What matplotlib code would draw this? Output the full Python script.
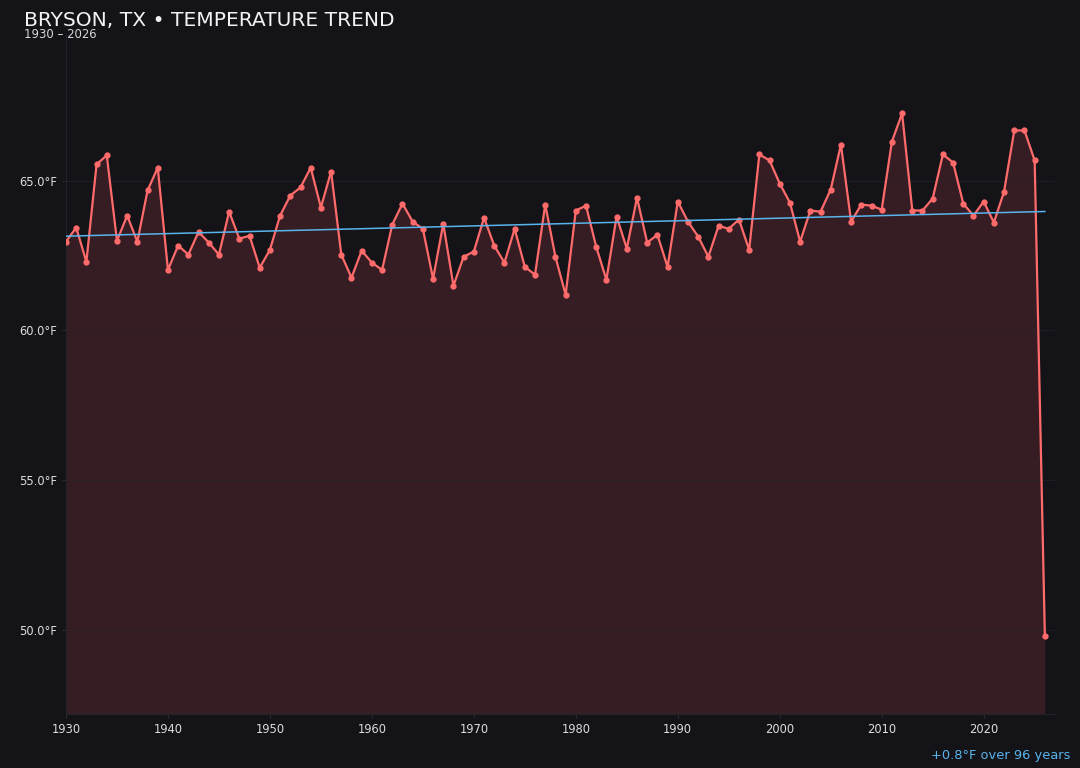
"""
Temperature trend chart for Bryson, TX
"""
import numpy
import matplotlib
matplotlib.use('Agg')
import matplotlib.pyplot as plt
from matplotlib.ticker import FuncFormatter, MultipleLocator

years = numpy.arange(1930, 2027)
temps = [
  62.96, 63.43, 62.29, 65.54, 65.84, 62.99, 63.83, 62.96, 64.67, 65.43,
  62.02, 62.83, 62.53, 63.29, 62.93, 62.53, 63.96, 63.06, 63.16, 62.09,
  62.69, 63.83, 64.50, 64.77, 65.43, 64.10, 65.30, 62.53, 61.76, 62.66,
  62.26, 62.02, 63.53, 64.23, 63.63, 63.39, 61.72, 63.56, 61.49, 62.46,
  62.63, 63.76, 62.83, 62.26, 63.39, 62.12, 61.86, 64.20, 62.46, 61.19,
  64.00, 64.16, 62.79, 61.69, 63.80, 62.73, 64.43, 62.93, 63.19, 62.12,
  64.30, 63.63, 63.13, 62.46, 63.49, 63.39, 63.70, 62.69, 65.87, 65.67,
  64.90, 64.26, 62.96, 64.00, 63.96, 64.70, 66.20, 63.63, 64.20, 64.16,
  64.03, 66.30, 67.24, 64.00, 64.00, 64.40, 65.87, 65.60, 64.23, 63.83,
  64.30, 63.60, 64.63, 66.67, 66.67, 65.67, 49.82,
]
title = 'BRYSON, TX \u2022 TEMPERATURE TREND'
subtitle = '1930 \u2013 2026'

BG = '#131318'
LINE = '#ff6b6b'
TREND = '#5ab4ec'

def plot_trend(path: str = 'out.png'):
  temps_arr = numpy.array(temps)
  fig = plt.figure(figsize=(10.8, 7.68), dpi=100, facecolor=BG)
  ax = fig.add_axes([0.0611, 0.0703, 0.9158, 0.8841])
  ax.set_facecolor(BG)

  lo = temps_arr.min()
  hi = temps_arr.max()
  pad = (hi - lo) * 0.15
  ax.set_ylim(lo - pad, hi + pad)
  ax.set_xlim(years[0], years[-1] + 1)

  ax.fill_between(years, temps_arr, lo - pad, color='#3a1f26', alpha=0.9, lw=0, zorder=1)
  ax.plot(years, temps_arr, color=LINE, lw=1.6, marker='o', ms=3.5, zorder=3)

  # linear trend over every year
  slope, inter = numpy.polyfit(years, temps_arr, 1)
  trend = slope * years + inter
  ax.plot(years, trend, color=TREND, lw=1.1, zorder=4)
  change = trend[-1] - trend[0]

  ax.yaxis.set_major_locator(MultipleLocator(5))
  ax.yaxis.set_major_formatter(FuncFormatter(lambda v, p: '%.1f\u00b0F' % v))
  ax.xaxis.set_major_locator(MultipleLocator(10))
  ax.grid(axis='y', color='#2a2a30', lw=0.6, alpha=0.6, zorder=0)
  ax.tick_params(colors='#2a2a30', labelcolor='#dcdce0', labelsize=8.3, length=3)
  for side in ['top', 'right']:
    ax.spines[side].set_visible(False)
  for side in ['left', 'bottom']:
    ax.spines[side].set_color('#23232a')

  fig.text(24 / 1080, 1 - 20 / 768, title, color='#f2f2f4', fontsize=14.6, va='center', ha='left')
  fig.text(24 / 1080, 1 - 35 / 768, subtitle, color='#d8d8dc', fontsize=8.4, va='center', ha='left')
  fig.text(1070 / 1080, 1 - 755 / 768, '%+.1f\u00b0F over %d years' % (change, years[-1] - years[0]),
           color=TREND, fontsize=9.4, va='center', ha='right')

  fig.savefig(path, dpi=100, facecolor=BG)
  plt.close(fig)

if __name__ == "__main__":
  plot_trend()
